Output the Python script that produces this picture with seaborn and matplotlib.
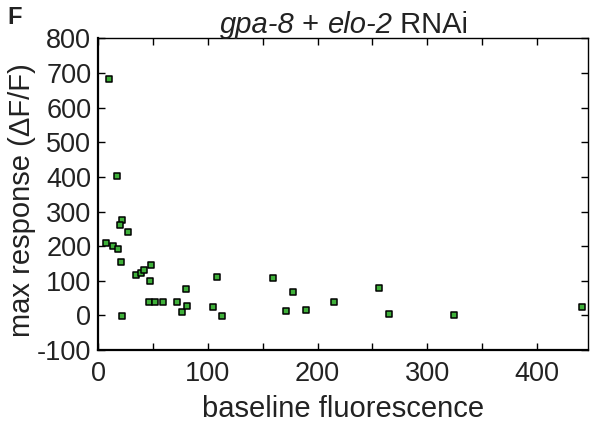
import numpy as np
import pandas as pd
import matplotlib
matplotlib.use("Agg")
import matplotlib.pyplot as plt
import seaborn as sns
from matplotlib.ticker import MultipleLocator

baseline = [10.0, 16.8, 21.9, 19.8, 26.8, 7.0, 13.7, 18.2, 21.0, 34.7, 39.0, 42.0,
            48.4, 47.2, 46.0, 52.0, 59.0, 71.5, 76.4, 80.0, 81.2, 21.9, 104.4, 108.6,
            112.6, 159.1, 171.0, 177.6, 189.2, 214.8, 256.1, 265.0, 324.8, 441.3]
max_response = [683, 403, 275, 260, 242, 209, 200, 192, 153, 117, 123, 132,
                145, 98, 39, 38, 38, 38, 10, 76, 27, -2, 23, 112,
                -1, 109, 12, 67, 16, 39, 78, 5, 2, 23]

x_ticks = [0, 100, 200, 300, 400]
y_ticks = [-100, 0, 100, 200, 300, 400, 500, 600, 700, 800]

df = pd.DataFrame({"baseline": baseline, "resp": max_response})

sns.set_style("ticks")
plt.rcParams["font.family"] = ["Liberation Sans", "DejaVu Sans"]
plt.rcParams["axes.unicode_minus"] = False

fig = plt.figure(figsize=(5.9, 4.23), dpi=100)
ax = fig.add_axes([98.3/590, 1-350/423, (588.3-98.3)/590, (350-38.5)/423])

sns.scatterplot(data=df, x="baseline", y="resp", ax=ax, marker="s", s=22,
                color="#3fb03a", edgecolor="black", linewidth=1.1, zorder=3, legend=False)

ax.set_xlim(0, 447)
ax.set_ylim(-100, 800)
ax.set_xticks(x_ticks)
ax.xaxis.set_minor_locator(MultipleLocator(50))
ax.set_yticks(y_ticks)
ax.tick_params(axis="both", which="both", direction="in", top=True, right=True,
               labelsize=19.5, width=1.0, color="black", labelcolor="#222222")
ax.tick_params(axis="both", which="major", length=5)
ax.tick_params(axis="x", which="major", pad=8)
ax.tick_params(axis="y", which="major", pad=5)
ax.tick_params(axis="x", which="minor", length=5)
for sp in ax.spines.values():
    sp.set_visible(True)
    sp.set_linewidth(1.0)
    sp.set_color("black")
ax.spines["left"].set_linewidth(1.6)
ax.spines["bottom"].set_linewidth(1.6)

ax.set_xlabel("baseline fluorescence", fontsize=21, color="#222222", labelpad=6)
ax.set_ylabel("max response (ΔF/F)", fontsize=21, color="#222222", va="center")
ax.yaxis.set_label_coords((22.5-98.3)/490, 0.48)

# Title with mixed italic
fig.canvas.draw()
r = fig.canvas.get_renderer()
parts = [("gpa-8", "italic"), (" + ", "normal"), ("elo-2", "italic"), (" RNAi", "normal")]
texts = []
for s, st in parts:
    t = fig.text(0, 0, s, fontsize=21, style=st, color="#222222", va="baseline", ha="left")
    texts.append(t)
widths = [t.get_window_extent(r).width for t in texts]
total = sum(widths)
cx = 344
x0 = cx - total/2
ybase = 1 - 33/423
for t, w in zip(texts, widths):
    t.set_position((x0/590, ybase))
    x0 += w

fig.text(7/590, 1-6/423, "F", fontsize=17, fontweight="bold", color="#222222", va="top")

fig.savefig("out.png", dpi=100)
